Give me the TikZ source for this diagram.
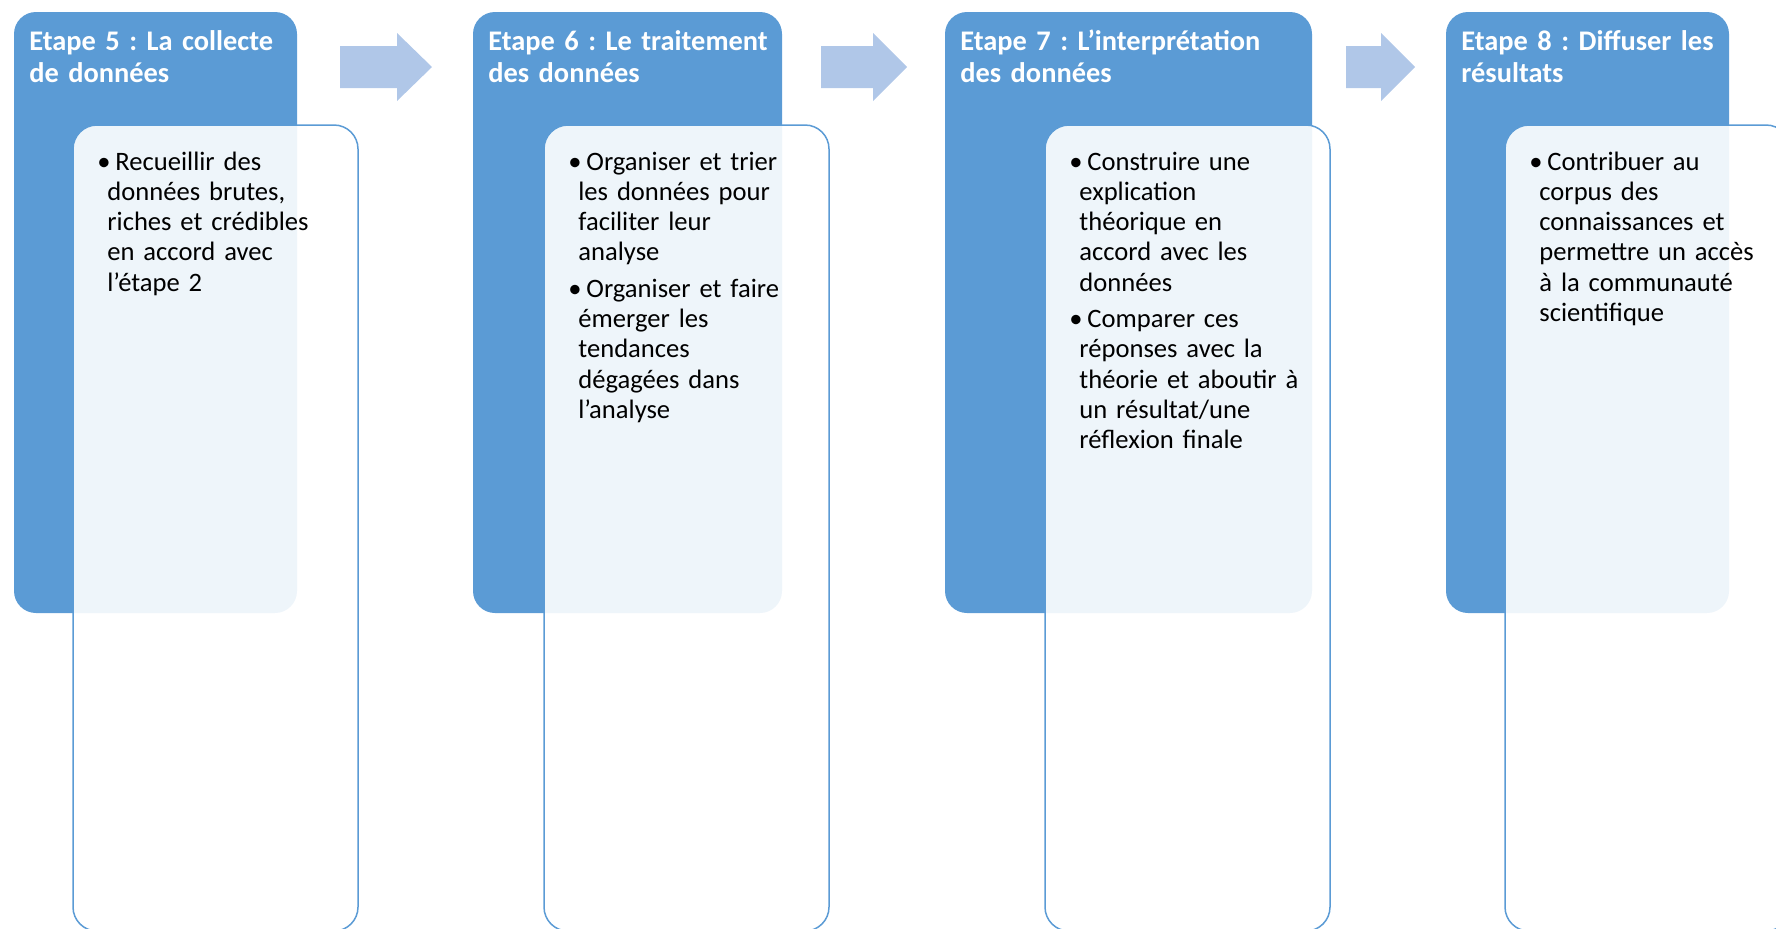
\documentclass[tikz,border=0pt]{standalone}
\usepackage{fontspec}
\setmainfont{Carlito}
\frenchspacing
\definecolor{bleu}{HTML}{5B9BD5}
\definecolor{bleuclair}{HTML}{B0C7E8}
\newcommand{\puce}{\makebox[9pt][l]{\textbullet}}
\newcommand{\suite}{\hspace*{5pt}}

\begin{document}
\begin{tikzpicture}[x=0.5pt,y=-0.5pt,
  etape/.style={fill=bleu,rounded corners=11pt},
  detail/.style={draw=bleu,line width=0.75pt,fill=white,fill opacity=0.9,rounded corners=12pt},
  fleche/.style={fill=bleuclair},
  titre/.style={anchor=base west,inner sep=0,text width=170pt,align=left,text=white,
    font=\fontsize{14.2}{16.4}\selectfont\bfseries},
  texte/.style={anchor=base west,inner sep=0,text width=170pt,align=left,
    font=\fontsize{13.3}{15.15}\selectfont}]

\useasboundingbox (0,0) rectangle (1776,928);

\fill[etape] (14,12) rectangle (297,613);
\fill[etape] (473,12) rectangle (782,613);
\fill[etape] (945,12) rectangle (1312,613);
\fill[etape] (1446,12) rectangle (1729,613);

\fill[fleche] (340,46) -- (397,46) -- (397,33) -- (432,67) -- (397,101) -- (397,88) -- (340,88) -- cycle;
\fill[fleche] (821,46) -- (873,46) -- (873,33) -- (907,67) -- (873,101) -- (873,88) -- (821,88) -- cycle;
\fill[fleche] (1346,46) -- (1381,46) -- (1381,33) -- (1415,67) -- (1381,101) -- (1381,88) -- (1346,88) -- cycle;

\draw[detail] (73,125) rectangle (358,931);
\draw[detail] (544,125) rectangle (829,931);
\draw[detail] (1045,125) rectangle (1330,931);
\draw[detail] (1505,125) rectangle (1790,931);

\node (t5) [titre] at (29,50) {Etape 5 : La collecte\\de données};
\node (t6) [titre] at (488,50) {Etape 6 : Le traitement\\des données};
\node (t7) [titre] at (960,50) {Etape 7 : L’interprétation\\des données};
\node (t8) [titre] at (1461,50) {Etape 8 : Diffuser les\\résultats};

\node (d5) [texte] at (97,170) {\puce Recueillir des\\\suite données brutes,\\\suite riches et crédibles\\\suite en accord avec\\\suite l’étape 2};
\node (d6) [texte] at (568,170) {\puce Organiser et trier\\\suite les données pour\\\suite faciliter leur\\\suite analyse\\[3pt]
  \puce Organiser et faire\\\suite émerger les\\\suite tendances\\\suite dégagées dans\\\suite l’analyse};
\node (d7) [texte] at (1069,170) {\puce Construire une\\\suite explication\\\suite théorique en\\\suite accord avec les\\\suite données\\[3pt]
  \puce Comparer ces\\\suite réponses avec la\\\suite théorie et aboutir à\\\suite un résultat/une\\\suite réflexion finale};
\node (d8) [texte] at (1529,170) {\puce Contribuer au\\\suite corpus des\\\suite connaissances et\\\suite permettre un accès\\\suite à la communauté\\\suite scientifique};

\end{tikzpicture}
\end{document}
